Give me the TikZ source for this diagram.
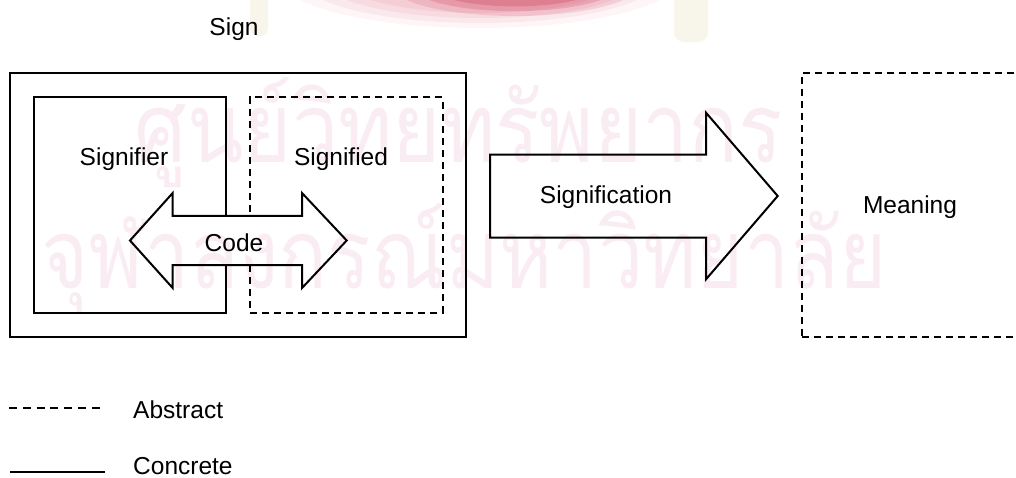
\documentclass[tikz,border=0pt]{standalone}
\usepackage{fontspec}
\setmainfont{Liberation Sans}
\newfontfamily\thaifont[Script=Thai]{Loma}
\definecolor{wmpink}{RGB}{250,236,243}
\definecolor{wmred}{RGB}{236,160,178}
\definecolor{wmcream}{RGB}{248,246,234}
\begin{document}
\begin{tikzpicture}[x=1pt,y=-1pt,
  lbl/.style={font=\fontsize{24.5}{29}\selectfont, inner sep=0pt, anchor=base},
  frame/.style={line width=2pt, inner sep=0pt, outer sep=0pt},
  solidbox/.style={frame, draw},
  dashedbox/.style={frame, draw, dash pattern=on 7pt off 5pt},
  abstractline/.style={line width=2pt, dash pattern=on 8pt off 5.8pt},
  concreteline/.style={line width=2pt},
  bigarrow/.style={draw, fill=white, line width=2pt, line join=miter},
  wm/.style={font=\thaifont\fontsize{110}{120}\selectfont, text=wmpink, inner sep=0pt, anchor=base}]
\useasboundingbox (0,0) rectangle (1016,477);
\clip (0,0) rectangle (1016,477);

% boxes
\node[solidbox, minimum width=456pt, minimum height=264pt] (sign) at (238,204.5) {};
\node[solidbox, minimum width=192.5pt, minimum height=215.4pt] (signifier) at (129.75,205) {};
\node[dashedbox, minimum width=192.5pt, minimum height=215.4pt] (signified) at (346.25,205) {};
\node[dashedbox, minimum width=256pt, minimum height=264pt] (meaningbox) at (930,204.5) {};

% code: two-headed arrow across the inner boxes
\draw[bigarrow] (130,240.5) -- (172.7,193) -- (172.7,215.8) -- (302,215.8) -- (302,193)
  -- (346.7,240.5) -- (302,288) -- (302,265.2) -- (172.7,265.2) -- (172.7,288) -- cycle;

% signification arrow
\draw[bigarrow] (490,154.5) -- (706,154.5) -- (706,112.7) -- (777.7,196) -- (706,279.3)
  -- (706,237.5) -- (490,237.5) -- cycle;

% labels
\node[lbl] (signlbl) at (234,35) {Sign};
\node[lbl] (signifierlbl) at (124,165) {Signifier};
\node[lbl] (signifiedlbl) at (341,165) {Signified};
\node[lbl] (codelbl) at (234,251) {Code};
\node[lbl] (signiflbl) at (606,203) {Signification};
\node[lbl] (meaninglbl) at (910,213) {Meaning};

% legend
\coordinate (absA) at (9,408);
\coordinate (absB) at (100,408);
\coordinate (conA) at (10,472);
\coordinate (conB) at (105,472);
\draw[abstractline] (absA) -- (absB);
\draw[concreteline] (conA) -- (conB);
\node[lbl, anchor=base west] (abslbl) at (133,418) {Abstract};
\node[lbl, anchor=base west] (conlbl) at (133,474) {Concrete};

% library watermark, multiplied so black strokes stay black
\begin{scope}[blend mode=multiply]
  \foreach \r/\o in {1.00/0.22, 0.9/0.26, 0.8/0.3, 0.7/0.35}
    \fill[wmred!50, opacity=\o] (480,-22) ellipse ({200*\r} and {50*\r});
  \foreach \r/\o in {1.00/0.3, 0.85/0.4, 0.7/0.45}
    \fill[wmred, opacity=\o] (515,-16) ellipse ({125*\r} and {32*\r});
  \fill[wmcream, rounded corners=8pt] (250,-10) rectangle (268,36);
  \fill[wmcream, rounded corners=10pt] (674,-10) rectangle (708,42);
  \node[wm] (wmline1) at (459,162) {\scalebox{0.75}[0.88]{ศูนย์วิทยทรัพยากร}};
  \node[wm] (wmline2) at (464,288) {\scalebox{0.735}[0.88]{จุฬาลงกรณ์มหาวิทยาลัย}};
\end{scope}
\end{tikzpicture}
\end{document}
